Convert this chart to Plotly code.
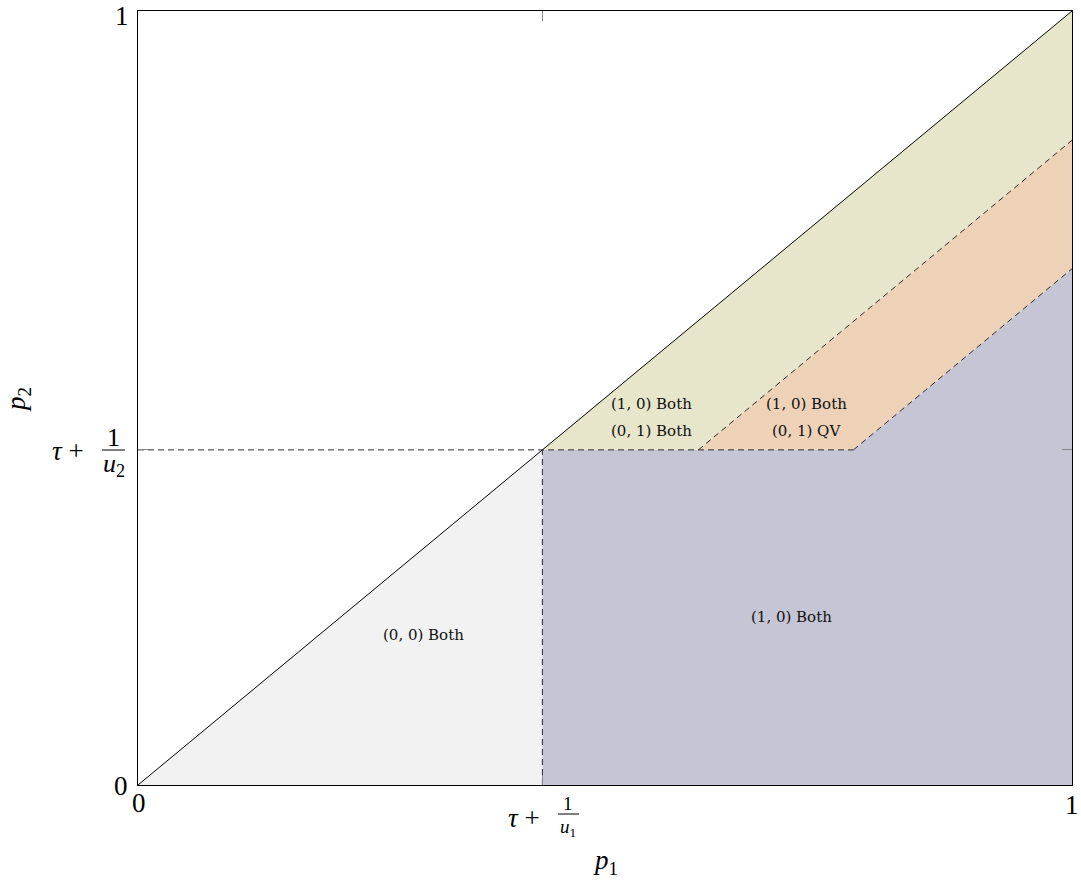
import plotly.graph_objects as go

# key values
tau = 0.433          # tau + 1/u1  (= tau + 1/u2)
d1 = 0.167           # offset of first dashed diagonal below p2 = p1
d2 = 0.333           # offset of second dashed diagonal

region_colors = {"gray": "#f2f2f2", "purple": "#c6c5d6", "green": "#e7e6ca", "orange": "#eed2b8"}

region_labels = [
    ("(1, 0) Both", 0.550, 0.492),
    ("(0, 1) Both", 0.550, 0.457),
    ("(1, 0) Both", 0.716, 0.492),
    ("(0, 1) QV", 0.716, 0.457),
    ("(0, 0) Both", 0.306, 0.194),
    ("(1, 0) Both", 0.700, 0.217),
]

W, H = 1081, 880
L, R, T, B = 138, 9, 11, 95
PW, PH = W - L - R, H - T - B

def px(x):
    return (x - L) / PW

def py(y):
    return (H - B - y) / PH

FONT = "Liberation Serif"
SFONT = "DejaVu Serif"
fig = go.Figure()

def poly(xs, ys, color):
    fig.add_trace(go.Scatter(x=xs + [xs[0]], y=ys + [ys[0]], mode="lines", fill="toself",
                             fillcolor=color, line=dict(width=0), hoverinfo="skip", showlegend=False))

poly([0, tau, tau], [0, 0, tau], region_colors["gray"])
poly([tau, 1, 1, tau + d2, tau], [0, 0, 1 - d2, tau, tau], region_colors["purple"])
poly([tau + d1, tau + d2, 1, 1], [tau, tau, 1 - d2, 1 - d1], region_colors["orange"])
poly([tau, tau + d1, 1, 1], [tau, tau, 1 - d1, 1], region_colors["green"])

def line(xs, ys, dash=None, color="black"):
    fig.add_trace(go.Scatter(x=xs, y=ys, mode="lines", hoverinfo="skip", showlegend=False,
                             line=dict(color=color, width=1, dash=dash)))

line([0, 1], [0, 1])
dash = "6px,4px"
line([0, tau + d2], [tau, tau], dash, "#2a2a2a")
line([tau, tau], [0, tau], dash, "#2a2a2a")
line([tau + d1, 1], [tau, 1 - d1], dash, "#2a2a2a")
line([tau + d2, 1], [tau, 1 - d2], dash, "#2a2a2a")

for txt, x, y in region_labels:
    fig.add_annotation(x=x, y=y, text=txt, showarrow=False, font=dict(family=SFONT, size=15, color="#111"))

def label(x, y, text, size=27, angle=0):
    fig.add_annotation(x=px(x), y=py(y), xref="paper", yref="paper", text=text, showarrow=False,
                       xanchor="center", yanchor="middle", textangle=angle,
                       font=dict(family=FONT, size=size, color="black"))

def bar(x0, x1, y):
    fig.add_shape(type="line", xref="paper", yref="paper", layer="above",
                  x0=px(x0), x1=px(x1), y0=py(y), y1=py(y),
                  line=dict(color="black", width=1))

# tick labels
label(139, 803, "0")
label(1072, 805, "1")
label(121, 786, "0")
label(122, 16, "1")

# tau + 1/u1 below x axis
label(524, 818, "<i>τ</i> +")
label(568, 803, "1", size=19)
bar(558, 579, 814)
label(568, 828, "<i>u</i><sub>1</sub>", size=19)

# tau + 1/u2 left of y axis
label(68, 451, "<i>τ</i> +")
label(113, 437, "1", size=26)
bar(102, 125, 450)
label(114, 465, "<i>u</i><sub>2</sub>", size=26)

# axis titles
label(605, 862, "<i>p</i><sub>1</sub>", size=27)
label(18, 400, "<i>p</i><sub>2</sub>", size=27, angle=-90)

axis = dict(range=[0, 1], showgrid=False, zeroline=False, showline=True, linecolor="black", linewidth=1,
            mirror="ticks", ticks="inside", ticklen=10, tickcolor="#888", tickwidth=1,
            tickvals=[0, tau, 1], showticklabels=False, fixedrange=True)
fig.update_xaxes(**axis)
fig.update_yaxes(**axis)
fig.update_layout(width=W, height=H, margin=dict(l=L, r=R, t=T, b=B),
                  plot_bgcolor="white", paper_bgcolor="white", showlegend=False)

fig.write_html("out.html", config={"displayModeBar": False},
               post_script="document.body.style.margin='0';document.body.style.overflow='hidden';")
